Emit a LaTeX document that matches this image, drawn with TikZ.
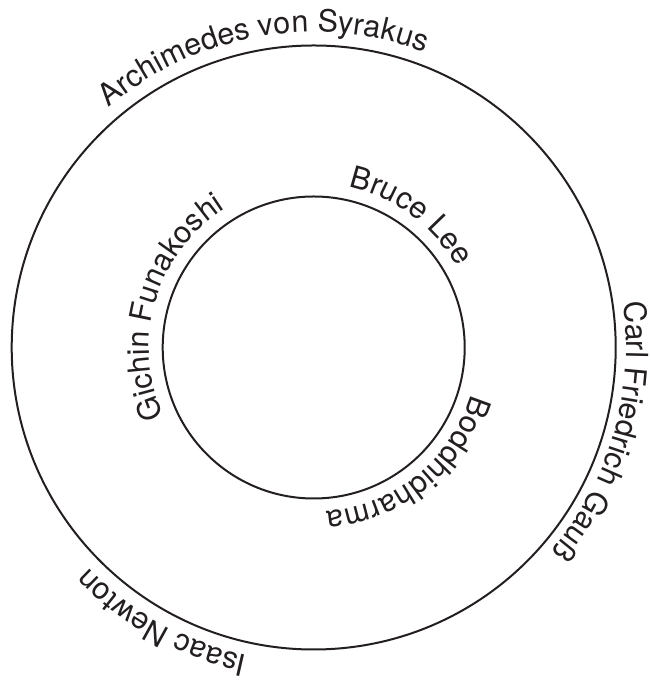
\documentclass[tikz,border=0pt]{standalone}
\usepackage{fontspec}
\setmainfont{TeX Gyre Heros}
\usetikzlibrary{decorations.text}
\definecolor{ink}{RGB}{35,31,32}
\newcommand\lblfont{\fontsize{30.5pt}{36pt}\selectfont}
\begin{document}
\begin{tikzpicture}[x=1pt,y=1pt]
\useasboundingbox (0,0) rectangle (650,684);
\tikzset{
  ring/.style={circle, draw=ink, line width=2pt, inner sep=0pt, minimum size=#1},
  label path/.style={decorate, decoration={text along path, text align=center,
      text color=ink, text={|\lblfont|#1}}}
}
\coordinate (C) at (313.7,336.5);
\node[ring=604pt] (outer) at (C) {};
\node[ring=302pt] (inner) at (C) {};
\begin{scope}[shift={(C)}]
  % outer ring labels
  \path[label path={Archimedes von Syrakus}] (145:315.5) arc[start angle=145, end angle=55, radius=315.5];
  \path[label path={Carl Friedrich Gauß}] (19.8:312.5) arc[start angle=19.8, end angle=-52.2, radius=312.5];
  \path[label path={Isaac Newton}] (266.1:315.5) arc[start angle=266.1, end angle=216.1, radius=315.5];
  % inner ring labels
  \path[label path={Bruce Lee}] (88.5:164.5) arc[start angle=88.5, end angle=18.5, radius=164.5];
  \path[label path={Boddhidharma}] (-6.15:164.5) arc[start angle=-6.15, end angle=-96.15, radius=164.5];
  \path[label path={Gichin Funakoshi}] (223.6:164.5) arc[start angle=223.6, end angle=103.6, radius=164.5];
\end{scope}
\end{tikzpicture}
\end{document}
